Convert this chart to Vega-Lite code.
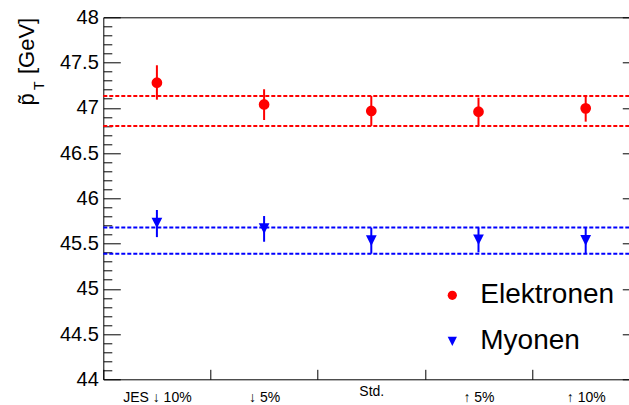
{
  "$schema": "https://vega.github.io/schema/vega-lite/v6.json",
  "width": 526,
  "height": 362,
  "autosize": "none",
  "padding": {"left": 103.3, "top": 17.3, "right": 0, "bottom": 26},
  "background": "white",
  "config": {
    "view": {"stroke": null},
    "font": "Liberation Sans",
    "axis": {
      "grid": false,
      "domainColor": "black",
      "domainWidth": 1,
      "tickColor": "black",
      "tickWidth": 1,
      "labelColor": "black",
      "labelFont": "Liberation Sans",
      "titleColor": "black",
      "titleFont": "Liberation Sans",
      "titleFontWeight": "normal"
    },
    "legend": {
      "orient": "none",
      "title": null,
      "padding": 0,
      "rowPadding": 18,
      "labelOffset": 14,
      "labelFontSize": 28,
      "labelFont": "Liberation Sans",
      "labelColor": "black",
      "symbolSize": 85,
      "symbolStrokeWidth": 0
    }
  },
  "datasets": {
    "measurements": [
      {"setting": "JES ↓ 10%", "series": "Elektronen", "pt": 47.277, "lo": 47.09, "hi": 47.47},
      {"setting": "↓ 5%", "series": "Elektronen", "pt": 47.037, "lo": 46.865, "hi": 47.205},
      {"setting": "Std.", "series": "Elektronen", "pt": 46.965, "lo": 46.8, "hi": 47.13},
      {"setting": "↑ 5%", "series": "Elektronen", "pt": 46.957, "lo": 46.8, "hi": 47.112},
      {"setting": "↑ 10%", "series": "Elektronen", "pt": 46.994, "lo": 46.847, "hi": 47.141},
      {"setting": "JES ↓ 10%", "series": "Myonen", "pt": 45.727, "lo": 45.571, "hi": 45.871},
      {"setting": "↓ 5%", "series": "Myonen", "pt": 45.664, "lo": 45.52, "hi": 45.804},
      {"setting": "Std.", "series": "Myonen", "pt": 45.532, "lo": 45.388, "hi": 45.676},
      {"setting": "↑ 5%", "series": "Myonen", "pt": 45.542, "lo": 45.403, "hi": 45.676},
      {"setting": "↑ 10%", "series": "Myonen", "pt": 45.536, "lo": 45.392, "hi": 45.676}
    ],
    "stdBand": [
      {"series": "Elektronen", "level": 47.13},
      {"series": "Elektronen", "level": 46.8},
      {"series": "Myonen", "level": 45.676},
      {"series": "Myonen", "level": 45.388}
    ]
  },
  "resolve": {
    "axis": {"x": "independent", "y": "independent"},
    "scale": {"color": "independent", "shape": "independent"},
    "legend": {"color": "independent", "shape": "independent"}
  },
  "layer": [
    {
      "data": {"name": "stdBand"},
      "mark": {"type": "rule", "strokeDash": [4, 2], "strokeWidth": 2},
      "encoding": {
        "y": {
          "field": "level",
          "type": "quantitative",
          "scale": {"domain": [44, 48], "nice": false, "zero": false},
          "axis": {
            "orient": "left",
            "values": [44, 44.5, 45, 45.5, 46, 46.5, 47, 47.5, 48],
            "format": "~g",
            "tickSize": -17,
            "labelPadding": 22,
            "labelFontSize": 20,
            "labelOverlap": false,
            "title": "p\u0303\u2009\u2009\u2009 [GeV]",
            "titleFontSize": 22,
            "titleAngle": 270,
            "titleX": -70,
            "titleY": 0,
            "titleAlign": "right",
            "titleBaseline": "alphabetic"
          }
        },
        "color": {
          "field": "series",
          "type": "nominal",
          "scale": {"domain": ["Elektronen", "Myonen"], "range": ["#ff0000", "#0000ff"]},
          "legend": null
        }
      }
    },
    {
      "data": {"name": "measurements"},
      "mark": {"type": "rule", "strokeWidth": 2},
      "encoding": {
        "x": {
          "field": "setting",
          "type": "nominal",
          "sort": null,
          "scale": {
            "domain": ["JES ↓ 10%", "↓ 5%", "Std.", "↑ 5%", "↑ 10%"],
            "range": [0, 536],
            "paddingInner": 0,
            "paddingOuter": 0
          },
          "axis": {
            "orient": "bottom",
            "title": null,
            "tickBand": "extent",
            "tickSize": -10,
            "labelAngle": 0,
            "labelFontSize": 14,
            "labelBaseline": "top",
            "labelPadding": {"condition": {"test": "datum.value === 'Std.'", "value": 15}, "value": 21}
          }
        },
        "y": {
          "field": "lo",
          "type": "quantitative",
          "scale": {"domain": [44, 48], "nice": false, "zero": false},
          "axis": {
            "orient": "left",
            "values": [44.1, 44.2, 44.3, 44.4, 44.6, 44.7, 44.8, 44.9, 45.1, 45.2, 45.3, 45.4, 45.6, 45.7, 45.8, 45.9, 46.1, 46.2, 46.3, 46.4, 46.6, 46.7, 46.8, 46.9, 47.1, 47.2, 47.3, 47.4, 47.6, 47.7, 47.8, 47.9],
            "tickSize": -8.5,
            "labels": false,
            "domain": false,
            "title": "T",
            "titleFontSize": 14,
            "titleAngle": 270,
            "titleX": -60,
            "titleY": 68,
            "titleAlign": "center",
            "titleBaseline": "alphabetic"
          }
        },
        "y2": {"field": "hi"},
        "color": {
          "field": "series",
          "type": "nominal",
          "scale": {"domain": ["Elektronen", "Myonen"], "range": ["#ff0000", "#0000ff"]},
          "legend": null
        }
      }
    },
    {
      "data": {"name": "measurements"},
      "mark": {"type": "point", "filled": true, "opacity": 1, "size": 115, "strokeWidth": 0},
      "encoding": {
        "x": {
          "field": "setting",
          "type": "nominal",
          "sort": null,
          "scale": {
            "domain": ["JES ↓ 10%", "↓ 5%", "Std.", "↑ 5%", "↑ 10%"],
            "range": [0, 536],
            "paddingInner": 0,
            "paddingOuter": 0
          },
          "axis": {"orient": "top", "title": null, "ticks": false, "labels": false, "domain": true}
        },
        "y": {
          "field": "pt",
          "type": "quantitative",
          "scale": {"domain": [44, 48], "nice": false, "zero": false},
          "axis": {
            "orient": "right",
            "offset": 10,
            "values": [44, 44.5, 45, 45.5, 46, 46.5, 47, 47.5, 48],
            "tickSize": -17,
            "labels": false,
            "domain": false,
            "title": null
          }
        },
        "color": {
          "field": "series",
          "type": "nominal",
          "scale": {"domain": ["Elektronen", "Myonen"], "range": ["#ff0000", "#0000ff"]},
          "legend": {"orient": "none", "legendX": 335, "legendY": 264}
        },
        "shape": {
          "field": "series",
          "type": "nominal",
          "scale": {"domain": ["Elektronen", "Myonen"], "range": ["circle", "M-1,-1L1,-1L0,1Z"]},
          "legend": {"orient": "none", "legendX": 335, "legendY": 264}
        }
      }
    }
  ]
}
